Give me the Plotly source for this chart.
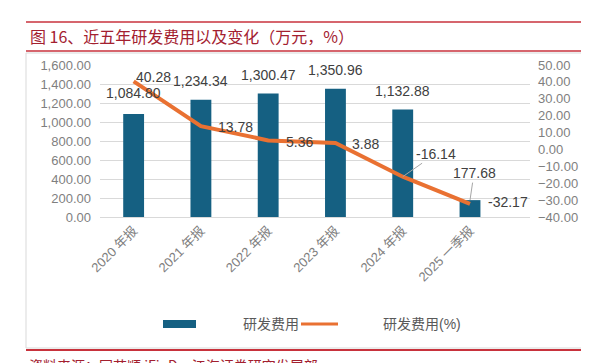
import plotly.graph_objects as go

categories = ["2020 年报", "2021 年报", "2022 年报", "2023 年报", "2024 年报", "2025 一季报"]
rd_cost = [1084.80, 1234.34, 1300.47, 1350.96, 1132.88, 177.68]
rd_change = [40.28, 13.78, 5.36, 3.88, -16.14, -32.17]
left_ticks = [0, 200, 400, 600, 800, 1000, 1200, 1400, 1600]
right_ticks = [-40, -30, -20, -10, 0, 10, 20, 30, 40, 50]

W, H = 589, 363
L, R, T, B = 92, 522, 57, 209

def px(x):
    return (x - L) / (R - L)

def py(y):
    return (B - y) / (B - T)

BAR = "#156082"
LINE = "#E97132"
RED = "#A3202F"
FONT = "Liberation Sans, Noto Sans CJK SC, sans-serif"

fig = go.Figure()
fig.add_trace(go.Bar(x=categories, y=rd_cost, marker=dict(color=BAR, line=dict(width=0)),
                     name="研发费用", yaxis="y", showlegend=False))
fig.add_trace(go.Scatter(x=categories, y=rd_change, mode="lines", line=dict(color=LINE, width=4),
                         name="研发费用(%)", yaxis="y2", showlegend=False))

ann = []
# bar labels
bar_shift = [21, 19, 18, 19, 18]
for i in range(5):
    ann.append(dict(x=categories[i], y=rd_cost[i], xref="x", yref="y", text=f"{rd_cost[i]:,.2f}",
                    showarrow=False, yshift=bar_shift[i], font=dict(size=14, color="#404040", family=FONT)))
ann.append(dict(x=categories[5], y=rd_cost[5], xref="x", yref="y", text=f"{rd_cost[5]:,.2f}",
                showarrow=True, arrowhead=0, arrowwidth=1, arrowcolor="#A6A6A6", ax=4, ay=-27,
                font=dict(size=14, color="#404040", family=FONT)))
# line labels
line_off = [(0, 4), (15, -1), (16, -2), (15, -1), None, (16, 2)]
for i in range(6):
    if line_off[i] is None:
        ann.append(dict(x=categories[i], y=rd_change[i], xref="x", yref="y2", text=f"{rd_change[i]:.2f}",
                        showarrow=True, arrowhead=0, arrowwidth=1, arrowcolor="#A6A6A6", ax=33, ay=-23,
                        font=dict(size=14, color="#404040", family=FONT)))
    else:
        dx, dy = line_off[i]
        ann.append(dict(x=categories[i], y=rd_change[i], xref="x", yref="y2", text=f"{rd_change[i]:.2f}",
                        showarrow=False, xanchor="left", xshift=dx, yshift=dy,
                        font=dict(size=14, color="#404040", family=FONT)))

# title and source
ann.append(dict(x=px(20), y=py(28), xref="paper", yref="paper", xanchor="left", yanchor="middle",
                text="图 16、近五年研发费用以及变化（万元，%）", showarrow=False,
                font=dict(size=16, color=RED, family="Noto Sans CJK SC")))
ann.append(dict(x=px(19), y=py(357), xref="paper", yref="paper", xanchor="left", yanchor="middle",
                text="资料来源：同花顺 iFinD，江海证券研究发展部", showarrow=False,
                font=dict(size=14, color=RED, family="Noto Sans CJK SC")))
# legend texts
ann.append(dict(x=px(233), y=py(316), xref="paper", yref="paper", xanchor="left", yanchor="middle",
                text="研发费用", showarrow=False, font=dict(size=14, color="#595959", family=FONT)))
ann.append(dict(x=px(373), y=py(316), xref="paper", yref="paper", xanchor="left", yanchor="middle",
                text="研发费用(%)", showarrow=False, font=dict(size=14, color="#595959", family=FONT)))

shapes = [
    dict(type="line", xref="paper", yref="paper", x0=px(18), x1=px(589), y0=py(14), y1=py(14),
         line=dict(color="#C8323C", width=1.5)),
    dict(type="line", xref="paper", yref="paper", x0=px(18), x1=px(589), y0=py(43), y1=py(43),
         line=dict(color="#C8323C", width=1.5)),
    dict(type="rect", xref="paper", yref="paper", x0=px(18), x1=px(583), y0=py(45), y1=py(340),
         line=dict(color="#D9D9D9", width=1), layer="below"),
    dict(type="line", xref="paper", yref="paper", x0=px(18), x1=px(583), y0=py(342), y1=py(342),
         line=dict(color="#C8323C", width=2)),
    dict(type="rect", xref="paper", yref="paper", x0=px(155), x1=px(188), y0=py(312), y1=py(320),
         fillcolor=BAR, line=dict(width=0)),
    dict(type="line", xref="paper", yref="paper", x0=px(293), x1=px(330), y0=py(316), y1=py(316),
         line=dict(color=LINE, width=3)),
]

fig.update_layout(
    width=W, height=H,
    margin=dict(l=L, r=W - R, t=T, b=H - B, pad=0),
    paper_bgcolor="white", plot_bgcolor="white",
    font=dict(family=FONT, size=13, color="#7F7F7F"),
    bargap=0.69,
    showlegend=False,
    xaxis=dict(type="category", showgrid=False, showline=True, linecolor="#D9D9D9", linewidth=1,
               tickangle=-45, tickfont=dict(size=13, color="#7F7F7F"), ticks=""),
    yaxis=dict(range=[0, 1600], tickvals=left_ticks, tickformat=",.2f", showgrid=True,
               gridcolor="#D9D9D9", gridwidth=1, zeroline=False, showline=False, ticks="",
               tickfont=dict(size=13, color="#7F7F7F"), ticklabelstandoff=8),
    yaxis2=dict(range=[-40, 50], tickvals=right_ticks, tickformat=".2f", overlaying="y", side="right",
                showgrid=False, zeroline=False, showline=False, ticks="",
                tickfont=dict(size=13, color="#7F7F7F"), ticklabelstandoff=7),
    annotations=ann,
    shapes=shapes,
)

fig.write_html("out.html")
